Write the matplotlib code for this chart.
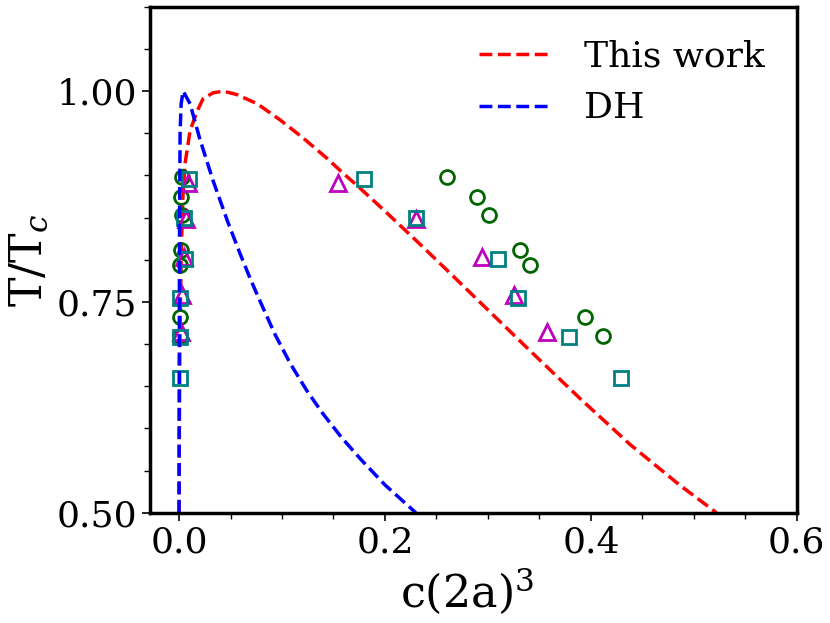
import numpy as np
import matplotlib
matplotlib.use("Agg")
import matplotlib.pyplot as plt
from matplotlib.ticker import MultipleLocator

## coexistence curves
# this work (red)
x_this = [0.0, 0.0003, 0.0008, 0.002, 0.0035, 0.0058, 0.0107, 0.0175, 0.0233, 0.033,
          0.043, 0.056, 0.076, 0.098, 0.120, 0.144, 0.159, 0.173, 0.198, 0.231,
          0.260, 0.292, 0.341, 0.389, 0.438, 0.486, 0.522]
y_this = [0.5, 0.6, 0.7, 0.8, 0.87, 0.914, 0.953, 0.976, 0.991, 0.998,
          1.0, 0.996, 0.985, 0.966, 0.945, 0.920, 0.903, 0.888, 0.860, 0.822,
          0.788, 0.750, 0.692, 0.636, 0.581, 0.533, 0.5]
# Debye-Hueckel (blue)
x_dh = [0.0, 0.0002, 0.0005, 0.001, 0.002, 0.004, 0.0107, 0.020, 0.033, 0.047,
        0.059, 0.069, 0.079, 0.093, 0.108, 0.124, 0.140, 0.158, 0.176, 0.200,
        0.230]
y_dh = [0.5, 0.7, 0.85, 0.95, 0.985, 1.0, 0.985, 0.944, 0.894, 0.846,
        0.808, 0.778, 0.750, 0.712, 0.677, 0.645, 0.617, 0.589, 0.564, 0.533,
        0.5]

## simulation points
# circles
x_circ = [0.003, 0.002, 0.003, 0.002, 0.001, 0.001, 0.001,
          0.260, 0.289, 0.301, 0.331, 0.341, 0.394, 0.412]
y_circ = [0.898, 0.874, 0.853, 0.812, 0.794, 0.732, 0.710,
          0.898, 0.874, 0.853, 0.812, 0.794, 0.732, 0.710]
# triangles
x_tri = [0.009, 0.007, 0.005, 0.003, 0.002,
         0.154, 0.230, 0.294, 0.325, 0.357]
y_tri = [0.891, 0.848, 0.803, 0.758, 0.714,
         0.891, 0.848, 0.803, 0.758, 0.714]
# squares
x_sq = [0.010, 0.005, 0.006, 0.001, 0.001, 0.001,
        0.180, 0.230, 0.310, 0.329, 0.379, 0.429]
y_sq = [0.896, 0.849, 0.801, 0.755, 0.708, 0.660,
        0.896, 0.849, 0.801, 0.755, 0.708, 0.660]

plt.rcParams['font.family'] = 'DejaVu Serif'
plt.rcParams['mathtext.fontset'] = 'dejavuserif'

fig = plt.figure(figsize=(8.3, 6.23), dpi=100)
ax = fig.add_axes([0.181, 0.177, 0.779, 0.812])

ax.plot(x_this, y_this, '--', color='red', lw=2.5, label='This work')
ax.plot(x_circ, y_circ, 'o', mfc='none', mec='darkgreen', ms=10, mew=2)
ax.plot(x_tri, y_tri, '^', mfc='none', mec='m', ms=11, mew=2)
ax.plot(x_sq, y_sq, 's', mfc='none', mec='teal', ms=10, mew=2)
ax.plot(x_dh, y_dh, '--', color='blue', lw=2.5, label='DH')

ax.set_xlim(-0.028, 0.6)
ax.set_ylim(0.5, 1.1)
ax.set_xticks([0.0, 0.2, 0.4, 0.6])
ax.set_yticks([0.5, 0.75, 1.0])
ax.xaxis.set_minor_locator(MultipleLocator(0.05))
ax.yaxis.set_minor_locator(MultipleLocator(0.05))
ax.tick_params(which='major', labelsize=26, length=6, width=1.2)
ax.tick_params(which='minor', length=4, width=1.0)
for sp in ax.spines.values():
    sp.set_linewidth(2.5)

ax.set_xlabel('c(2a)$^3$', fontsize=32, labelpad=2)
ax.xaxis.set_label_coords(0.49, -0.105)
ax.set_ylabel('T/T$_c$', fontsize=32)

ax.legend(loc='upper right', fontsize=26, frameon=False,
          handlelength=2.0, handletextpad=0.9)

fig.savefig('out.png', dpi=100)
